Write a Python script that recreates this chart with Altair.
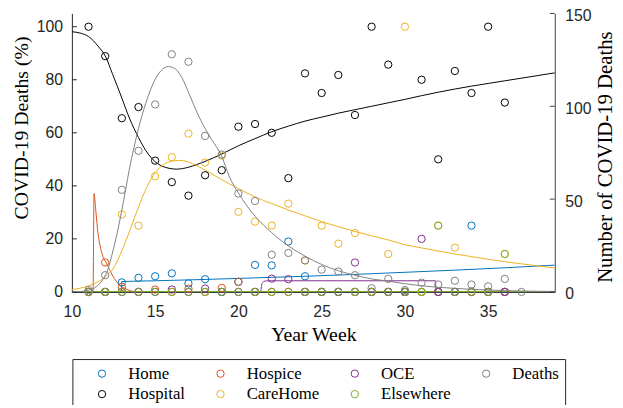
import altair as alt
import pandas as pd

# ---------------- data ----------------
pct_weeks = list(range(11, 37))          # weeks with percentage points
death_weeks = list(range(11, 38))        # weeks with death counts

home      = [0, 0, 3.6, 5.3, 5.9, 7.0, 3.2, 4.8, 0, 3.8, 10.2, 10.0, 19.0, 5.9, 0, 0, 0, 0, 0, 0, 0, 0, 0, 25.0, 0, 0]
hospital  = [100, 88.9, 65.5, 69.7, 49.5, 41.4, 36.3, 44.0, 45.9, 62.3, 63.3, 60.0, 42.9, 82.4, 75.0, 81.8, 66.7, 100, 85.7, 0, 80.0, 50.0, 83.3, 75.0, 100, 71.4]
hospice   = [0, 11.1, 1.9, 0, 0.9, 0, 1.2, 0, 1.5, 3.8, 0, 0, 0, 0, 0, 0, 0, 0, 0, 0, 0, 0, 0, 0, 0, 0]
carehome  = [0, 0, 29.2, 25.0, 43.6, 50.8, 59.7, 48.8, 51.4, 30.2, 26.5, 25.0, 33.3, 11.8, 25.0, 18.2, 22.2, 0, 14.3, 100, 0, 25.0, 16.7, 0, 0, 14.3]
oce       = [0, 0, 0, 0, 0, 0.9, 0, 1.3, 0, 0, 0, 5.0, 4.8, 0, 0, 0, 11.1, 0, 0, 0, 20.0, 0, 0, 0, 0, 0]
elsewhere = [0, 0, 0, 0, 0, 0, 0, 0, 0, 0, 0, 0, 0, 0, 0, 0, 0, 0, 0, 0, 0, 25.0, 0, 0, 0, 14.3]
deaths    = [1, 9, 55, 76, 101, 128, 124, 84, 74, 53, 49, 20, 21, 17, 12, 11, 9, 2, 7, 1, 5, 4, 6, 4, 3, 7, 0]

# fitted curves
home_cx = [10, 12.97, 13.0, 15, 18, 21, 24, 27, 30, 33, 36, 39]
home_cy = [0, 0, 3.9, 4.2, 4.7, 5.3, 5.9, 6.6, 7.4, 8.2, 9.1, 10.1]

hosp_cx = [10, 10.5, 11, 11.62, 12, 12.45, 13, 13.45, 14, 14.45, 15, 15.6, 16.3, 17, 17.5, 18, 19, 20, 21, 22, 23, 24, 25, 26, 27, 28, 29, 30, 31, 32, 33, 34, 35, 36, 37, 38, 39]
hosp_cy = [98.1, 97.6, 96.3, 92.3, 89.0, 82.0, 73.1, 65.6, 58.2, 53.2, 49.1, 47.0, 46.3, 47.0, 48.0, 49.2, 52.0, 55.1, 57.8, 60.4, 62.5, 64.4, 65.9, 67.4, 68.7, 70.0, 71.3, 72.6, 74.0, 75.3, 76.5, 77.6, 78.6, 79.6, 80.6, 81.6, 82.6]

hospice_cx = [10, 11.27, 11.33, 11.43, 11.57, 11.71, 11.86, 12.06, 12.46, 12.86, 13.25, 13.6, 14, 39]
hospice_cy = [0, 0, 37.1, 31.0, 22.0, 17.0, 13.4, 11.0, 6.0, 2.6, 1.1, 0.3, 0, 0]

care_cx = [10, 10.5, 11, 11.5, 12, 12.5, 13, 13.5, 14, 14.5, 15, 15.5, 16, 16.4, 17, 17.5, 18, 19, 20, 21, 22, 23, 24, 25, 26, 27, 28, 29, 30, 31, 32, 33, 34, 35, 36, 37, 38, 39]
care_cy = [0.9, 1.4, 2.3, 3.6, 5.6, 9.0, 15.5, 23.5, 32.0, 39.5, 45.0, 48.0, 49.3, 49.6, 49.0, 47.6, 46.0, 42.3, 39.0, 35.8, 33.3, 30.9, 28.7, 26.5, 24.6, 22.8, 21.2, 19.6, 17.8, 16.6, 15.4, 14.3, 13.3, 12.3, 11.4, 10.6, 9.8, 9.0]

oce_cx = [10, 21.33, 21.42, 21.55, 21.8, 31.84, 31.87, 39]
oce_cy = [0, 0, 3.2, 4.0, 4.2, 4.2, 0, 0]

else_cx = [10, 39]
else_cy = [0, 0]

deaths_cx = [10, 10.5, 11, 11.5, 11.86, 12.16, 12.45, 12.75, 13, 13.45, 14, 14.45, 15, 15.45, 15.8, 16.2, 16.6, 17, 17.5, 18, 18.4, 19, 19.45, 20, 21, 22, 23, 24, 25, 26, 27, 28, 29, 30, 31, 32, 33, 34, 35, 36, 37, 38, 39]
deaths_cy = [0, 0.2, 0.9, 3.0, 6.7, 12.0, 21.5, 33.0, 44.0, 66.0, 88.0, 102.0, 114.5, 120.0, 121.4, 120.2, 115.5, 107.6, 97.0, 88.0, 82.0, 73.0, 62.2, 53.3, 40.8, 31.9, 24.8, 19.3, 14.8, 11.4, 9.0, 7.0, 5.8, 4.4, 3.3, 2.5, 1.9, 1.4, 1.0, 0.7, 0.5, 0.35, 0.25]

x_ticks = [10, 15, 20, 25, 30, 35]
left_ticks = [0, 20, 40, 60, 80, 100]
right_ticks = [0, 50, 100, 150]

legend_order = ["Home", "Hospital", "Hospice", "CareHome", "OCE", "Elsewhere", "Deaths"]
legend_colors = ["#0072BD", "#000000", "#D95319", "#EDB120", "#7E2F8E", "#77AC30", "#808080"]
color_of = dict(zip(legend_order, legend_colors))

# ---------------- tables ----------------
pct_series = [("Home", home), ("Hospital", hospital), ("Hospice", hospice),
              ("CareHome", carehome), ("OCE", oce), ("Elsewhere", elsewhere)]
pts_rows = []
for name, vals in pct_series:
    for w, v in zip(pct_weeks, vals):
        pts_rows.append({"week": w, "value": v, "series": name})
pts_df = pd.DataFrame(pts_rows)
deaths_df = pd.DataFrame({"week": death_weeks, "value": deaths, "series": "Deaths"})

pct_curves = [("Home", home_cx, home_cy), ("Hospital", hosp_cx, hosp_cy),
              ("Hospice", hospice_cx, hospice_cy), ("CareHome", care_cx, care_cy),
              ("OCE", oce_cx, oce_cy), ("Elsewhere", else_cx, else_cy)]

# ---------------- encodings ----------------
SERIF = "Liberation Serif"
SANS = "Liberation Sans"

x_scale = alt.Scale(domain=[10, 39], nice=False, zero=False)
x_axis = alt.Axis(values=x_ticks, title="Year Week", grid=False, ticks=False,
                  labelPadding=12, titlePadding=5, labelFont=SANS, labelFontSize=16,
                  labelColor="#262626", titleFont=SERIF, titleFontSize=20,
                  titleFontWeight=400, titleColor="#000000",
                  domainColor="#262626", labelFlush=False)

yl_scale = alt.Scale(domain=[0, 105], nice=False, zero=True)
yl_axis = alt.Axis(values=left_ticks, title="COVID-19 Deaths (%)", grid=False, ticks=False,
                   labelPadding=9.5, titlePadding=5, titleY=115.5, labelFont=SANS,
                   labelFontSize=16, labelColor="#262626", titleFont=SERIF,
                   titleFontSize=20, titleFontWeight=400, titleColor="#000000",
                   domainColor="#262626")

yr_scale = alt.Scale(domain=[0, 150], nice=False, zero=True)
yr_axis = alt.Axis(orient="right", values=right_ticks, title="Number of COVID-19 Deaths",
                   grid=False, ticks=False, labelPadding=10, labelOffset=2, titlePadding=4,
                   titleAngle=270, titleBaseline="top", titleY=145,
                   labelFont=SANS, labelFontSize=16, labelColor="#262626",
                   titleFont=SERIF, titleFontSize=21, titleFontWeight=400,
                   titleColor="#000000", domainColor="#404040")

color_scale = alt.Scale(domain=legend_order, range=legend_colors)
legend = alt.Legend(title=None, orient="none", legendX=0.5, legendY=350, columns=4,
                    direction="vertical",
                    symbolType="circle", symbolSize=55, symbolStrokeWidth=1,
                    labelFont=SERIF, labelFontSize=17, labelColor="#000000",
                    strokeColor="#262626", fillColor="#ffffff", padding=6,
                    symbolOffset=15.5, labelOffset=18, columnPadding=11, rowPadding=3)

# ---------------- left (percent) layers ----------------
left_layers = []
for name, cx, cy in pct_curves:
    cdf = pd.DataFrame({"week": cx, "value": cy, "idx": list(range(len(cx)))})
    left_layers.append(
        alt.Chart(cdf).mark_line(strokeWidth=2 if name == "Elsewhere" else 1,
                                 interpolate="monotone", clip=True).encode(
            x=alt.X("week:Q", scale=x_scale, axis=x_axis),
            y=alt.Y("value:Q", scale=yl_scale, axis=yl_axis),
            order=alt.Order("idx:Q"),
            stroke=alt.value(color_of[name]))
    )
left_layers.append(
    alt.Chart(pts_df).mark_point(filled=False, size=55, strokeWidth=1, opacity=1).encode(
        x=alt.X("week:Q", scale=x_scale, axis=x_axis),
        y=alt.Y("value:Q", scale=yl_scale, axis=yl_axis),
        color=alt.Color("series:N", scale=color_scale, legend=legend))
)
left_layers.append(
    alt.Chart(pd.DataFrame({"v": left_ticks})).mark_rule(color="#262626", strokeWidth=1).encode(
        y=alt.Y("v:Q", scale=yl_scale, axis=yl_axis), x=alt.value(0), x2=alt.value(5))
)
A = alt.layer(*left_layers)

# ---------------- right (deaths) layers ----------------
dc_df = pd.DataFrame({"week": deaths_cx, "value": deaths_cy, "idx": list(range(len(deaths_cx)))})
B = alt.layer(
    alt.Chart(dc_df).mark_line(strokeWidth=1, interpolate="monotone", clip=True).encode(
        x=alt.X("week:Q", scale=x_scale, axis=x_axis),
        y=alt.Y("value:Q", scale=yr_scale, axis=yr_axis),
        order=alt.Order("idx:Q"),
        stroke=alt.value(color_of["Deaths"])),
    alt.Chart(deaths_df).mark_point(filled=False, size=55, strokeWidth=1, opacity=1).encode(
        x=alt.X("week:Q", scale=x_scale, axis=x_axis),
        y=alt.Y("value:Q", scale=yr_scale, axis=yr_axis),
        color=alt.Color("series:N", scale=color_scale, legend=legend)),
    alt.Chart(pd.DataFrame({"v": right_ticks})).mark_rule(color="#404040", strokeWidth=1).encode(
        y=alt.Y("v:Q", scale=yr_scale, axis=yr_axis), x=alt.value(484), x2=alt.value(489)),
)

chart = alt.layer(A, B).resolve_scale(y="independent").properties(
    width=489, height=282,
    autosize=alt.AutoSizeParams(type="none"),
    padding={"left": 64.7, "top": 3, "right": 61, "bottom": 112},
    background="#ffffff",
).configure_view(stroke=None).configure_axis(titleFontWeight="normal")

chart.save("out.html", embed_options={"renderer": "svg", "actions": False})
